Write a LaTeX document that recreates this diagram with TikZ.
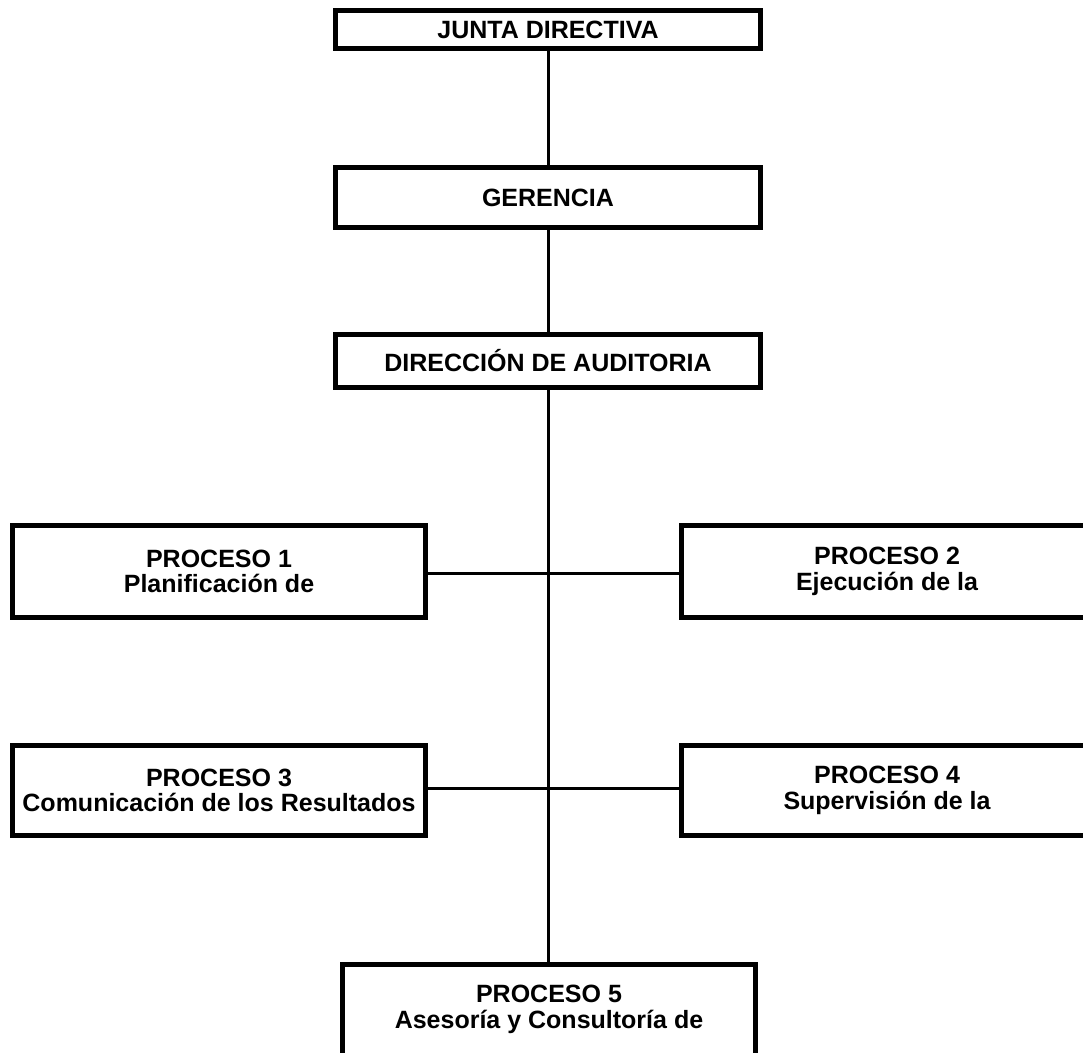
\documentclass[tikz,border=0pt]{standalone}
\usepackage{fontspec}
\setmainfont{Liberation Sans}
\begin{document}
\begin{tikzpicture}[x=1pt,y=-1pt,
  box/.style={draw, line width=5pt, outer sep=0pt, inner sep=0pt, align=center,
    font=\bfseries\fontsize{25}{25.5}\selectfont},
  link/.style={line width=3pt}]
\clip (0,0) rectangle (1083,1052);
% management chain
\node[box, minimum width=425pt, minimum height=38pt] (jd)  at (548,29.5)  {JUNTA DIRECTIVA};
\node[box, minimum width=425pt, minimum height=60pt] (ger) at (548,197.5) {GERENCIA};
\node[box, minimum width=425pt, minimum height=53pt] (dir) at (548,361)   {DIRECCIÓN DE AUDITORIA};
% processes
\node[box, minimum width=413pt, minimum height=92pt] (p1) at (219,571.5) {PROCESO 1\\Planificación de};
\node[box, minimum width=411pt, minimum height=92pt] (p2) at (887,571.5) {PROCESO 2\\Ejecución de la};
\node[box, minimum width=413pt, minimum height=90pt] (p3) at (219,790.5) {PROCESO 3\\Comunicación de los Resultados};
\node[box, minimum width=411pt, minimum height=90pt] (p4) at (887,790.5) {PROCESO 4\\Supervisión de la};
\node[box, anchor=north, inner ysep=21pt, text depth=100pt, minimum width=413pt] (p5) at (549,964.5)
  {PROCESO 5\\Asesoría y Consultoría de};
% connectors
\draw[link] (jd.south) -- (ger.north);
\draw[link] (ger.south) -- (dir.north);
\draw[link] (dir.south) -- (dir.south |- p5.north);
\draw[link] (p1.east) ++(0,1.5) -- (p2.west |- {0,573});
\draw[link] (p3.east) ++(0,-2.5) -- (p4.west |- {0,788});
\end{tikzpicture}
\end{document}
